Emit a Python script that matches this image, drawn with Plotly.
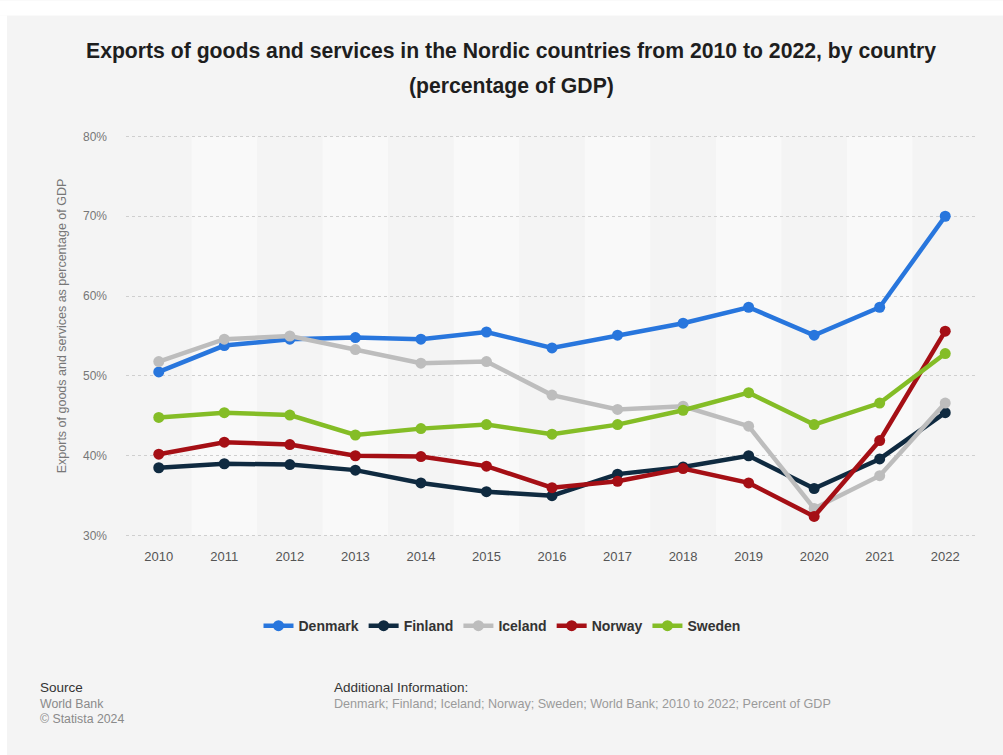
import plotly.graph_objects as go

# Exports of goods and services, % of GDP (World Bank)
years = list(range(2010, 2023))
denmark = [50.5, 53.8, 54.6, 54.8, 54.6, 55.5, 53.5, 55.1, 56.6, 58.6, 55.1, 58.6, 70.0]
finland = [38.5, 39.0, 38.9, 38.2, 36.6, 35.5, 35.0, 37.7, 38.6, 40.0, 35.9, 39.6, 45.4]
iceland = [51.8, 54.6, 55.0, 53.3, 51.6, 51.8, 47.6, 45.8, 46.2, 43.7, 33.4, 37.5, 46.6]
norway = [40.2, 41.7, 41.4, 40.0, 39.9, 38.7, 36.0, 36.8, 38.4, 36.6, 32.4, 41.9, 55.6]
sweden = [44.8, 45.4, 45.1, 42.6, 43.4, 43.9, 42.7, 43.9, 45.7, 47.9, 43.9, 46.6, 52.8]

series = [
    ("Denmark", denmark, "#2876dd"),
    ("Finland", finland, "#0f2a40"),
    ("Iceland", iceland, "#bdbdbd"),
    ("Norway", norway, "#a50f15"),
    ("Sweden", sweden, "#84bd26"),
]

y_ticks = [30, 40, 50, 60, 70, 80]
y_tick_labels = [f"{v}%" for v in y_ticks]

W, H = 1003, 755
L, R, T, B = 126, 25, 133.6, 217.1
PW, PH = W - L - R, H - T - B


def px_x(x):
    return (x - L) / PW


def px_y(y):
    return (H - B - y) / PH


fig = go.Figure()
for name, vals, color in series:
    fig.add_trace(go.Scatter(
        x=years, y=vals, name=name, mode="lines+markers",
        line=dict(color=color, width=4.5),
        marker=dict(color=color, size=11),
        hoverinfo="skip",
    ))

shapes = []
# page background: white strip on top and left, grey panel elsewhere
shapes.append(dict(type="rect", xref="paper", yref="paper",
                   x0=px_x(0), x1=px_x(W), y0=px_y(0), y1=px_y(15),
                   fillcolor="white", line=dict(width=0), layer="below"))
shapes.append(dict(type="rect", xref="paper", yref="paper",
                   x0=px_x(0), x1=px_x(7), y0=px_y(15), y1=px_y(H),
                   fillcolor="white", line=dict(width=0), layer="below"))
# alternating light column bands
for yr in years[1::2]:
    shapes.append(dict(type="rect", xref="x", yref="y",
                       x0=yr - 0.5, x1=yr + 0.5, y0=30, y1=80,
                       fillcolor="#f9f9f9", line=dict(width=0), layer="below"))


def note(text, x, y, size, color, **kw):
    return dict(text=text, x=px_x(x), y=px_y(y), xref="paper", yref="paper",
                showarrow=False, xanchor=kw.pop("xanchor", "left"),
                yanchor="middle", font=dict(size=size, color=color), **kw)


annotations = [
    note("<b>Exports of goods and services in the Nordic countries from 2010 to 2022, by country</b>",
         511, 51, 21.2, "#1e1e1e", xanchor="center"),
    note("<b>(percentage of GDP)</b>", 511, 86, 21.2, "#1e1e1e", xanchor="center"),
    note("Exports of goods and services as percentage of GDP", 62, 326, 12.5, "#777777",
         xanchor="center", textangle=-90),
    note("Source", 38, 688, 13.5, "#333333"),
    note("World Bank", 38, 704, 12.3, "#8a8a8a"),
    note("© Statista 2024", 38, 719, 12.3, "#8a8a8a"),
    note("Additional Information:", 332, 688, 13.5, "#333333"),
    note("Denmark; Finland; Iceland; Norway; Sweden; World Bank; 2010 to 2022; Percent of GDP",
         332, 704, 12.6, "#9a9a9a"),
]

fig.update_layout(
    width=W, height=H,
    margin=dict(l=L, r=R, t=T, b=B, pad=0),
    paper_bgcolor="#f4f4f4",
    plot_bgcolor="#f4f4f4",
    font=dict(family="Liberation Sans, Arial, sans-serif"),
    showlegend=True,
    legend=dict(orientation="h", x=px_x(502), y=px_y(626),
                xanchor="center", yanchor="middle",
                font=dict(size=14, color="#333333", weight="bold"),
                itemwidth=30, bgcolor="rgba(0,0,0,0)"),
    shapes=shapes,
    annotations=annotations,
    xaxis=dict(range=[2009.5, 2022.5], tickmode="array", tickvals=years,
               ticktext=[str(y) for y in years], showgrid=False, zeroline=False,
               showline=False, ticks="", tickfont=dict(size=13, color="#555555"),
               ticklabelstandoff=9, fixedrange=True),
    yaxis=dict(range=[29.7, 80.3], tickmode="array", tickvals=y_ticks,
               ticktext=y_tick_labels, showgrid=True, gridcolor="#cfcfcf",
               griddash="dot", gridwidth=1, zeroline=False, showline=False,
               ticks="", tickfont=dict(size=12, color="#777777"),
               ticklabelstandoff=18, fixedrange=True),
)

fig.write_html("out.html")
